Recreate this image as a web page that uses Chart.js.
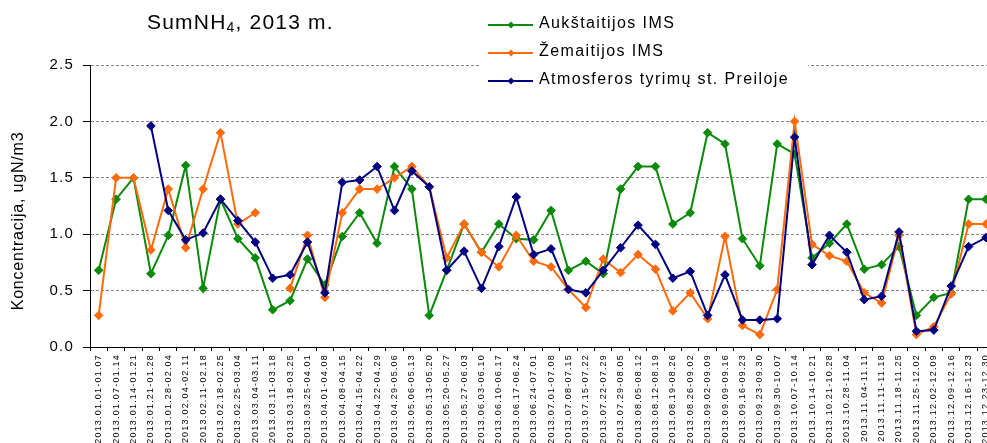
<!DOCTYPE html>
<html><head><meta charset="utf-8">
<script src="https://cdn.jsdelivr.net/npm/chart.js@4/dist/chart.umd.min.js"></script>
<style>
html,body{margin:0;padding:0;overflow:hidden;background:#fff;width:987px;height:443px}
#wrap{position:absolute;left:0;top:0;width:1000px;height:443px}
</style>
</head><body><div id="wrap"><canvas id="c" width="1000" height="443"></canvas></div>
<script>
const categories = [
"2013.01.01-01.07","2013.01.07-01.14","2013.01.14-01.21","2013.01.21-01.28","2013.01.28-02.04",
"2013.02.04-02.11","2013.02.11-02.18","2013.02.18-02.25","2013.02.25-03.04","2013.03.04-03.11",
"2013.03.11-03.18","2013.03.18-03.25","2013.03.25-04.01","2013.04.01-04.08","2013.04.08-04.15",
"2013.04.15-04.22","2013.04.22-04.29","2013.04.29-05.06","2013.05.06-05.13","2013.05.13-05.20",
"2013.05.20-05.27","2013.05.27-06.03","2013.06.03-06.10","2013.06.10-06.17","2013.06.17-06.24",
"2013.06.24-07.01","2013.07.01-07.08","2013.07.08-07.15","2013.07.15-07.22","2013.07.22-07.29",
"2013.07.29-08.05","2013.08.05-08.12","2013.08.12-08.19","2013.08.19-08.26","2013.08.26-09.02",
"2013.09.02-09.09","2013.09.09-09.16","2013.09.16-09.23","2013.09.23-09.30","2013.09.30-10.07",
"2013.10.07-10.14","2013.10.14-10.21","2013.10.21-10.28","2013.10.28-11.04","2013.11.04-11.11",
"2013.11.11-11.18","2013.11.18-11.25","2013.11.25-12.02","2013.12.02-12.09","2013.12.09-12.16",
"2013.12.16-12.23","2013.12.23-12.30"
];
const aukstaitijos = [
0.68,1.31,1.50,0.65,0.99,1.61,0.52,1.31,0.96,0.79,
0.33,0.41,0.78,0.55,0.98,1.19,0.92,1.60,1.40,0.28,
0.68,1.09,0.84,1.09,0.96,0.95,1.21,0.68,0.76,0.65,
1.40,1.60,1.60,1.09,1.19,1.90,1.80,0.96,0.72,1.80,
1.71,0.79,0.92,1.09,0.69,0.73,0.89,0.28,0.44,0.48,
1.31,1.31
];
const zemaitijos = [
0.28,1.50,1.50,0.86,1.40,0.88,1.40,1.90,1.09,1.19,
null,0.52,0.99,0.44,1.19,1.40,1.40,1.50,1.60,1.42,
0.79,1.09,0.84,0.71,0.99,0.76,0.71,0.51,0.35,0.78,
0.66,0.82,0.69,0.32,0.48,0.25,0.98,0.19,0.11,0.51,
2.00,0.91,0.81,0.76,0.48,0.39,0.99,0.11,0.18,0.47,
1.09,1.09
];
const preiloje = [
null,null,null,1.96,1.21,0.95,1.01,1.31,1.12,0.93,
0.61,0.64,0.93,0.48,1.46,1.48,1.60,1.21,1.56,1.42,
0.68,0.85,0.52,0.89,1.33,0.82,0.87,0.51,0.48,0.68,
0.88,1.08,0.91,0.61,0.67,0.28,0.64,0.24,0.24,0.25,
1.86,0.73,0.99,0.84,0.42,0.45,1.02,0.14,0.15,0.54,
0.89,0.97
];
const seriesNames = ["Aukštaitijos IMS","Žemaitijos IMS","Atmosferos tyrimų st. Preiloje"];
const seriesColors = ["#0A8A0A","#FF6A0A","#000080"];
const yTicks = [0,0.5,1.0,1.5,2.0,2.5];
const titleMain = "SumNH", titleSub = "4", titleRest = ", 2013 m.";
const yTitle = "Koncentracija, ugN/m3";

const FONT = "'Liberation Sans', Arial, sans-serif";

function ds(i, data, order){
  return {label: seriesNames[i], data: data, borderColor: seriesColors[i], backgroundColor: seriesColors[i],
    borderWidth: 2, pointStyle: 'rectRot', pointRadius: 4.3, pointBorderWidth: 1,
    pointBackgroundColor: seriesColors[i], pointBorderColor: seriesColors[i],
    tension: 0, spanGaps: false, order: order};
}

const deco = {
  id: 'deco',
  beforeDraw(chart){
    const ctx = chart.ctx;
    ctx.save();
    ctx.fillStyle = '#fff';
    ctx.fillRect(0,0,chart.width,chart.height);
    ctx.restore();
    try { ctx.letterSpacing = '1.2px'; } catch(e){}
  },
  afterDraw(chart){
    const ctx = chart.ctx;
    ctx.save();
    // legend box
    ctx.fillStyle = '#fff';
    ctx.fillRect(479, 0, 329, 95);
    const rows = [25, 53, 81];
    for (let i = 0; i < 3; i++){
      const y = rows[i];
      ctx.strokeStyle = seriesColors[i];
      ctx.lineWidth = 2;
      ctx.beginPath(); ctx.moveTo(488, y); ctx.lineTo(533, y); ctx.stroke();
      ctx.fillStyle = seriesColors[i];
      ctx.beginPath(); ctx.moveTo(511, y-3.5); ctx.lineTo(514.5, y); ctx.lineTo(511, y+3.5); ctx.lineTo(507.5, y); ctx.closePath(); ctx.fill();
      try { ctx.letterSpacing = '1.4px'; } catch(e){}
      ctx.fillStyle = '#000';
      ctx.font = '16px ' + FONT;
      ctx.textAlign = 'left';
      ctx.textBaseline = 'middle';
      ctx.fillText(seriesNames[i], 539, y - 1);
    }
    // title
    try { ctx.letterSpacing = '1.2px'; } catch(e){}
    ctx.fillStyle = '#000';
    ctx.textBaseline = 'alphabetic';
    ctx.textAlign = 'left';
    ctx.font = '21px ' + FONT;
    let x = 147;
    ctx.fillText(titleMain, x, 29);
    x += ctx.measureText(titleMain).width;
    ctx.font = '14px ' + FONT;
    ctx.fillText(titleSub, x, 32);
    x += ctx.measureText(titleSub).width;
    ctx.font = '21px ' + FONT;
    ctx.fillText(titleRest, x, 29);
    // y axis title
    try { ctx.letterSpacing = '0.8px'; } catch(e){}
    ctx.translate(19, 221);
    ctx.rotate(-Math.PI/2);
    ctx.font = '16px ' + FONT;
    ctx.textAlign = 'center';
    ctx.textBaseline = 'middle';
    ctx.fillText(yTitle, 0, 0);
    ctx.restore();
  }
};

new Chart(document.getElementById('c'), {
  type: 'line',
  data: {
    labels: categories,
    datasets: [ds(0, aukstaitijos, 3), ds(1, zemaitijos, 2), ds(2, preiloje, 1)]
  },
  options: {
    responsive: false,
    animation: false,
    devicePixelRatio: 1,
    layout: {padding: {top: 65, left: 0, right: 0, bottom: 0}},
    plugins: {legend: {display: false}, title: {display: false}, tooltip: {enabled: false}},
    scales: {
      x: {
        type: 'category',
        offset: true,
        grid: {offset: true, drawOnChartArea: false, drawTicks: true, tickLength: 4, tickColor: '#000', color: '#000'},
        border: {display: true, color: '#000', width: 1},
        ticks: {autoSkip: false, minRotation: 90, maxRotation: 90, padding: 3, color: '#000',
          font: {family: FONT, size: 9}},
        afterFit(scale){ scale.height = 96; }
      },
      y: {
        min: 0, max: 2.5,
        afterBuildTicks(scale){ scale.ticks = yTicks.map(v => ({value: v})); },
        grid: {
          color: (c) => (c.tick && c.tick.value === 0) ? 'rgba(0,0,0,0)' : '#8a8a8a',
          lineWidth: 1, drawTicks: true, tickLength: 7, tickColor: '#000'
        },
        border: {display: true, color: '#000', width: 1, dash: [3, 2]},
        ticks: {padding: 9, color: '#000', font: {family: FONT, size: 15},
          callback: (v) => Number(v).toFixed(1)},
        title: {display: false},
        afterFit(scale){ scale.width = 90; }
      }
    }
  },
  plugins: [deco]
});
</script>
</body></html>
